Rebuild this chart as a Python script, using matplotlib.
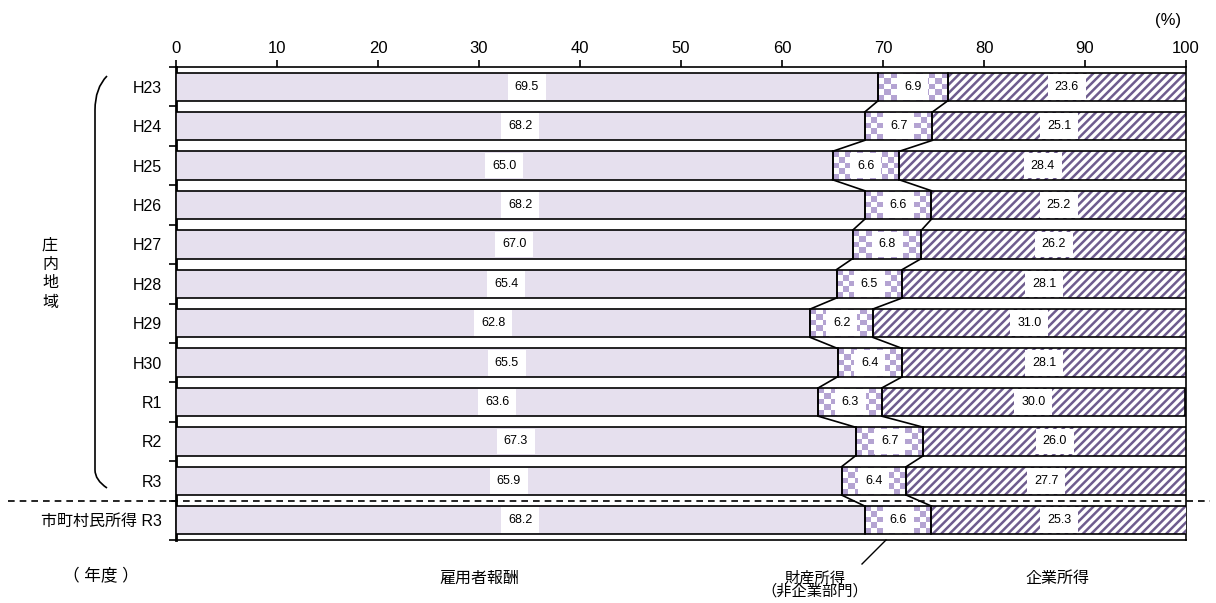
import numpy as np
import matplotlib.pyplot as plt
from matplotlib.path import Path
from matplotlib.patches import PathPatch

plt.rcParams['font.family'] = ['Liberation Sans', 'Noto Sans CJK JP', 'DejaVu Sans']

categories = ["H23", "H24", "H25", "H26", "H27", "H28", "H29", "H30",
              "R1", "R2", "R3", "市町村民所得 R3"]
employee = [69.5, 68.2, 65.0, 68.2, 67.0, 65.4, 62.8, 65.5, 63.6, 67.3, 65.9, 68.2]
property_inc = [6.9, 6.7, 6.6, 6.6, 6.8, 6.5, 6.2, 6.4, 6.3, 6.7, 6.4, 6.6]
business = [23.6, 25.1, 28.4, 25.2, 26.2, 28.1, 31.0, 28.1, 30.0, 26.0, 27.7, 25.3]
xticks = list(range(0, 101, 10))

c_emp = "#e6e0ee"
c_check = "#b4a3d2"
c_hatch = "#6e5c8e"
bar_h = 0.72

plt.rcParams["hatch.linewidth"] = 1.8
plt.rcParams["hatch.color"] = c_hatch

fig = plt.figure(figsize=(12.16, 6.03), dpi=100)
ax = fig.add_axes([176 / 1216, 1 - 540 / 603, 1010 / 1216, 473 / 603])

y = np.arange(len(categories))
emp = np.array(employee)
prop = np.array(property_inc)
bus = np.array(business)
cum1 = emp
cum2 = emp + prop

ax.barh(y, emp, height=bar_h, color=c_emp, edgecolor="black", linewidth=1.2, zorder=3)
prop_bars = ax.barh(y, prop, left=cum1, height=bar_h, facecolor="none",
                    edgecolor="black", linewidth=1.2, zorder=4)
ax.barh(y, bus, left=cum2, height=bar_h, facecolor="white", hatch="////",
        edgecolor=c_hatch, linewidth=0, zorder=3)
ax.barh(y, bus, left=cum2, height=bar_h, facecolor="none",
        edgecolor="black", linewidth=1.2, zorder=4)

# checker texture for property income
px_per_x = 1010 / 100
px_per_y = 473 / 12
purple = np.array([0xb4, 0xa3, 0xd2]) / 255
for rect, yi, left, w in zip(prop_bars, y, cum1, prop):
    nx = max(int(round(w * px_per_x / 6.2)), 1)
    ny = max(int(round(bar_h * px_per_y / 6.2)), 1)
    board = np.add.outer(np.arange(ny), np.arange(nx)) % 2
    img = np.ones((ny, nx, 3))
    img[board == 0] = purple
    im = ax.imshow(img, extent=(left, left + w, yi + bar_h / 2, yi - bar_h / 2),
                   interpolation="nearest", aspect="auto", zorder=2.5)
    im.set_clip_path(rect)

# series lines between bars
for i in range(len(categories) - 1):
    for c in (cum1, cum2):
        ax.plot([c[i], c[i + 1]], [y[i] + bar_h / 2, y[i + 1] - bar_h / 2],
                color="black", linewidth=1.2, zorder=4)

# value labels
box = dict(facecolor="white", edgecolor="none", boxstyle="square,pad=0.55")
for i in range(len(categories)):
    for xc, v in ((emp[i] / 2, emp[i]),
                  (cum1[i] + prop[i] / 2, prop[i]),
                  (cum2[i] + bus[i] / 2, bus[i])):
        ax.text(xc, y[i], f"{v:.1f}", ha="center", va="center",
                fontsize=9, bbox=box, zorder=5)

ax.set_xlim(0, 100)
ax.set_ylim(len(categories) - 0.5, -0.5)
ax.xaxis.tick_top()
ax.set_xticks(xticks)
ax.set_xticklabels([str(t) for t in xticks], fontsize=12)
ax.tick_params(axis="x", direction="out", length=5, width=1.2, pad=3)
ax.set_yticks(y)
ax.set_yticklabels(categories, fontsize=11.5)
ax.tick_params(axis="y", which="major", length=0, pad=10)
ax.set_yticks(np.arange(-0.5, len(categories)), minor=True)
ax.tick_params(axis="y", which="minor", direction="out", length=5, width=1.2)
for s in ax.spines.values():
    s.set_linewidth(1.2)
ax.spines["left"].set_linewidth(2)

# dashed separator
ax.plot([-16.6, 102.4], [10.5, 10.5], color="black", linestyle=(0, (4, 3)),
        linewidth=1.2, clip_on=False, zorder=6)

fig.text(1168 / 1216, 1 - 20 / 603, "(%)", ha="center", va="center", fontsize=12)
fig.text(101 / 1216, 1 - 576 / 603, "（ 年度 ）", ha="center", va="center", fontsize=12)
fig.text(479 / 1216, 1 - 578 / 603, "雇用者報酬", ha="center", va="center", fontsize=11.5)
fig.text(815 / 1216, 1 - 585 / 603, "財産所得\n（非企業部門）", ha="center", va="center",
         fontsize=11, linespacing=0.9)
fig.text(1057 / 1216, 1 - 578 / 603, "企業所得", ha="center", va="center", fontsize=11.5)
fig.add_artist(plt.Line2D([886 / 1216, 862 / 1216], [1 - 540 / 603, 1 - 564 / 603],
                          color="black", linewidth=1.0))

# region label and brace
for k, ch in enumerate("庄内地域"):
    fig.text(50 / 1216, 1 - (245 + 19 * k) / 603, ch, ha="center", va="center", fontsize=11.5)
verts = [(107, 76), (95, 88), (95, 110), (95, 400), (95, 470),
         (95, 480), (107, 488)]
verts = [(vx / 1216, 1 - vy / 603) for vx, vy in verts]
codes = [Path.MOVETO, Path.CURVE3, Path.CURVE3, Path.LINETO, Path.LINETO,
         Path.CURVE3, Path.CURVE3]
fig.add_artist(PathPatch(Path(verts, codes), facecolor="none", edgecolor="black",
                         linewidth=1.2, transform=fig.transFigure))

fig.savefig("out.png", dpi=100)
